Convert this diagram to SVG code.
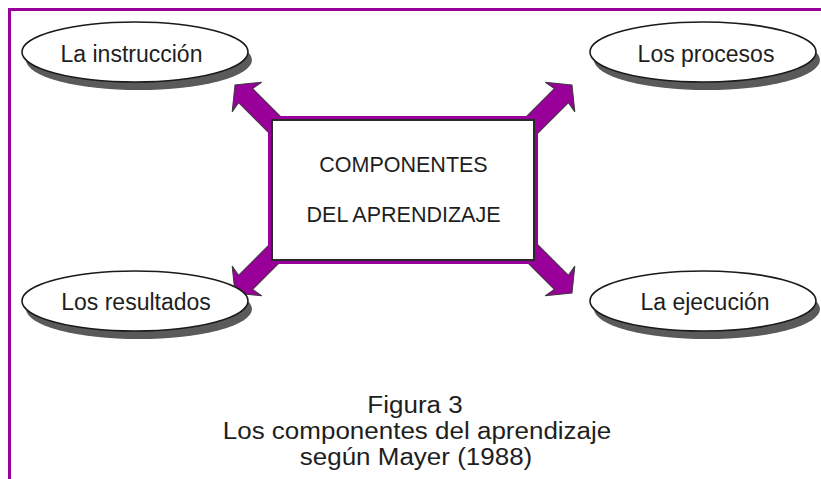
<svg xmlns="http://www.w3.org/2000/svg" width="821" height="479" viewBox="0 0 821 479">
<defs>
<style>
.lbl{font-family:"Liberation Sans",Arial,Helvetica,sans-serif;fill:#1e1e1e;text-anchor:middle}
.cap{font-size:23px}
.ell{fill:#fff;stroke:#1a1a1a;stroke-width:1.6}
.shd{fill:#5a5a5a}
.arr{fill:#990099;stroke:#3a3a3a;stroke-width:1;stroke-linejoin:miter}
</style>
<polygon id="arrow" class="arr" points="0,0 -17,-21 -15,-10 -80,-10 -80,10 -15,10 -17,21"/>
</defs>
<rect width="821" height="479" fill="#fff"/>
<path d="M9.5 479 V9.5 H821" fill="none" stroke="#990099" stroke-width="3"/>
<g id="connectors">
<use href="#arrow" transform="translate(235,85) rotate(225)"/>
<use href="#arrow" transform="translate(572,85) rotate(-45)"/>
<use href="#arrow" transform="translate(235,293) rotate(135)"/>
<use href="#arrow" transform="translate(572,293) rotate(45)"/>
</g>
<g id="center">
<rect x="269.5" y="117.5" width="267" height="145" fill="#fff" stroke="#990099" stroke-width="3"/>
<rect x="272" y="120" width="262" height="140" fill="#fff" stroke="#2a2a2a" stroke-width="2"/>
<text class="lbl" x="403.5" y="172" font-size="21.5">COMPONENTES</text>
<text class="lbl" x="403.5" y="222" font-size="21.5">DEL APRENDIZAJE</text>
</g>
<g id="instruccion">
<ellipse class="shd" cx="139" cy="60" rx="113" ry="30"/>
<ellipse class="ell" cx="135" cy="52" rx="113" ry="30"/>
<text class="lbl" x="131.5" y="62" font-size="23">La instrucción</text>
</g>
<g id="procesos">
<ellipse class="shd" cx="707" cy="60" rx="113" ry="30"/>
<ellipse class="ell" cx="703" cy="52" rx="113" ry="30"/>
<text class="lbl" x="706" y="62" font-size="23">Los procesos</text>
</g>
<g id="resultados">
<ellipse class="shd" cx="139" cy="309" rx="113" ry="30"/>
<ellipse class="ell" cx="135" cy="301" rx="113" ry="30"/>
<text class="lbl" x="136" y="310" font-size="23">Los resultados</text>
</g>
<g id="ejecucion">
<ellipse class="shd" cx="707" cy="309" rx="113" ry="30"/>
<ellipse class="ell" cx="703" cy="301" rx="113" ry="30"/>
<text class="lbl" x="705" y="310" font-size="23">La ejecución</text>
</g>
<g id="caption">
<text class="lbl cap" transform="translate(415,413) scale(1.13,1)">Figura 3</text>
<text class="lbl cap" transform="translate(417,439) scale(1.13,1)">Los componentes del aprendizaje</text>
<text class="lbl cap" transform="translate(416,465) scale(1.13,1)">según Mayer (1988)</text>
</g>
</svg>
